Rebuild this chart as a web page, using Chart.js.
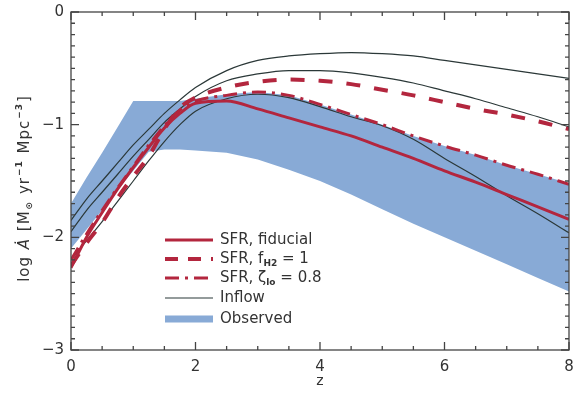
<!DOCTYPE html>
<html>
<head>
<meta charset="utf-8">
<script src="https://cdn.jsdelivr.net/npm/chart.js@4"></script>
<style>
  html, body { margin: 0; padding: 0; background: #fff; }
  #wrap { width: 573px; height: 394px; }
</style>
</head>
<body>
<div id="wrap"><canvas id="chart" width="573" height="394"></canvas></div>
<script>
// redshift grid shared by all curves
const zGrid = [0, 0.25, 0.5, 0.75, 1, 1.25, 1.5, 1.75, 2, 2.5, 3, 3.5, 4, 4.5, 5, 5.5, 6, 6.5, 7, 7.5, 8];

// observed band (upper / lower edge)
const obsUpper = [-1.70, -1.47, -1.25, -1.02, -0.79, -0.79, -0.79, -0.79, -0.77, -0.73, -0.71, -0.74, -0.82, -0.91, -1.00, -1.10, -1.19, -1.27, -1.36, -1.44, -1.52];
const obsLower = [-2.10, -1.93, -1.76, -1.58, -1.41, -1.24, -1.22, -1.22, -1.23, -1.25, -1.31, -1.40, -1.50, -1.62, -1.75, -1.88, -2.00, -2.12, -2.24, -2.36, -2.48];

// model SFR curves
const sfrFiducial = [-2.27, -2.00, -1.78, -1.57, -1.38, -1.20, -1.03, -0.90, -0.81, -0.79, -0.86, -0.94, -1.02, -1.10, -1.20, -1.30, -1.41, -1.51, -1.62, -1.73, -1.84];
const sfrFH2 = [-2.25, -2.05, -1.87, -1.65, -1.46, -1.28, -1.04, -0.85, -0.76, -0.67, -0.62, -0.60, -0.61, -0.64, -0.69, -0.74, -0.80, -0.86, -0.91, -0.97, -1.04];
const sfrZeta = [-2.20, -1.97, -1.76, -1.56, -1.37, -1.18, -1.01, -0.87, -0.79, -0.74, -0.71, -0.74, -0.82, -0.91, -1.00, -1.10, -1.19, -1.27, -1.36, -1.44, -1.53];

// inflow curves
const inflowA = [-1.85, -1.66, -1.50, -1.34, -1.18, -1.04, -0.90, -0.78, -0.67, -0.52, -0.43, -0.39, -0.37, -0.36, -0.37, -0.39, -0.43, -0.47, -0.51, -0.55, -0.59];
const inflowB = [-1.95, -1.76, -1.60, -1.44, -1.28, -1.13, -0.98, -0.86, -0.75, -0.61, -0.55, -0.52, -0.52, -0.54, -0.58, -0.63, -0.70, -0.77, -0.85, -0.93, -1.02];
const inflowC = [-2.20, -2.03, -1.86, -1.68, -1.50, -1.32, -1.15, -1.00, -0.88, -0.77, -0.73, -0.76, -0.84, -0.93, -1.01, -1.13, -1.30, -1.46, -1.63, -1.79, -1.96];

const xTicks = [0, 2, 4, 6, 8];
const yTicks = [0, -1, -2, -3];

const RED = '#b3263e';
const BLUE = '#88aad6';
const DARK = '#2b3838';
const FONT = 'DejaVu Sans';

const pts = arr => zGrid.map((z, i) => ({ x: z, y: arr[i] }));

function line(data, color, width, dash, order) {
    return {
        data: pts(data),
        borderColor: color,
        borderWidth: width,
        borderDash: dash,
        pointRadius: 0,
        cubicInterpolationMode: 'monotone',
        fill: false,
        order: order
    };
}

// box with inward ticks on all four sides
const frameTicks = {
    id: 'frameTicks',
    afterDraw(chart) {
        const { ctx, chartArea: a, scales: { x, y } } = chart;
        ctx.save();
        ctx.strokeStyle = '#444';
        ctx.lineWidth = 1.3;
        ctx.strokeRect(a.left, a.top, a.right - a.left, a.bottom - a.top);
        ctx.beginPath();
        for (let i = 0; i <= 16; i++) {
            const px = x.getPixelForValue(i * 0.5);
            const len = i % 4 === 0 ? 8 : 4;
            ctx.moveTo(px, a.bottom); ctx.lineTo(px, a.bottom - len);
            ctx.moveTo(px, a.top); ctx.lineTo(px, a.top + len);
        }
        for (let i = 0; i <= 30; i++) {
            const py = y.getPixelForValue(-i / 10);
            const len = i % 10 === 0 ? 8 : 4;
            ctx.moveTo(a.left, py); ctx.lineTo(a.left + len, py);
            ctx.moveTo(a.right, py); ctx.lineTo(a.right - len, py);
        }
        ctx.stroke();
        ctx.restore();
    }
};

// draws a run of text pieces with sub/superscripts
function drawParts(ctx, parts, x0, y0, size, spacing) {
    let tx = x0;
    parts.forEach(([txt, kind]) => {
        let dy = 0;
        if (kind === 'sub' || kind === 'sup') {
            ctx.font = 'bold ' + Math.round(size * 0.62) + 'px "' + FONT + '"';
            dy = kind === 'sub' ? size * 0.33 : -size * 0.38;
        } else if (kind === 'it') {
            ctx.font = 'italic ' + size + 'px "' + FONT + '"';
        } else {
            ctx.font = size + 'px "' + FONT + '"';
        }
        ctx.fillText(txt, tx, y0 + dy);
        tx += ctx.measureText(txt).width + spacing;
    });
    return tx - x0;
}

// y axis title, rotated, with subscripts
const yTitleParts = [['log '], ['Ȧ', 'it'], [' [M'], ['\u2299', 'sub'], [' yr'], ['\u22121', 'sup'], [' Mpc'], ['\u22123', 'sup'], [']']];

const yTitle = {
    id: 'yTitle',
    afterDraw(chart) {
        const ctx = chart.ctx;
        ctx.save();
        ctx.fillStyle = '#333';
        ctx.textBaseline = 'middle';
        ctx.letterSpacing = '1px';
        ctx.translate(25, 188);
        ctx.rotate(-Math.PI / 2);
        // measure first, then draw centred
        ctx.globalAlpha = 0;
        const w = drawParts(ctx, yTitleParts, 0, 0, 15, 1);
        ctx.globalAlpha = 1;
        drawParts(ctx, yTitleParts, -w / 2, 0, 15, 1);
        ctx.restore();
    }
};

// legend inside the plot, with subscripts
const legendEntries = [
    { parts: [['SFR, fiducial']], color: RED, width: 3, dash: [] },
    { parts: [['SFR, f'], ['H2', 'sub'], [' = 1']], color: RED, width: 4, dash: [13, 10] },
    { parts: [['SFR, ζ'], ['lo', 'sub'], [' = 0.8']], color: RED, width: 3, dash: [14, 6, 3, 6] },
    { parts: [['Inflow']], color: DARK, width: 1.2, dash: [] },
    { parts: [['Observed']], color: BLUE, width: 7, dash: [] }
];
const legendY = [240, 259, 278, 298, 319];

const innerLegend = {
    id: 'innerLegend',
    afterDatasetsDraw(chart) {
        const ctx = chart.ctx;
        ctx.save();
        legendEntries.forEach((e, i) => {
            const yy = legendY[i];
            ctx.beginPath();
            ctx.strokeStyle = e.color;
            ctx.lineWidth = e.width;
            ctx.setLineDash(e.dash);
            ctx.moveTo(165, yy);
            ctx.lineTo(213, yy);
            ctx.stroke();
            ctx.setLineDash([]);
            ctx.fillStyle = '#333';
            ctx.textBaseline = 'middle';
            drawParts(ctx, e.parts, 220, yy, 15, 0);
        });
        ctx.restore();
    }
};

new Chart(document.getElementById('chart'), {
    type: 'line',
    data: {
        datasets: [
            { data: pts(obsUpper), borderWidth: 0, pointRadius: 0, backgroundColor: BLUE, fill: 1, tension: 0, order: 20 },
            { data: pts(obsLower), borderWidth: 0, pointRadius: 0, fill: false, tension: 0, order: 21 },
            line(inflowA, DARK, 1.2, [], 10),
            line(inflowB, DARK, 1.2, [], 10),
            line(inflowC, DARK, 1.2, [], 10),
            line(sfrFH2, RED, 4, [14, 14], 3),
            line(sfrZeta, RED, 3, [14, 6, 3, 6], 2),
            line(sfrFiducial, RED, 3, [], 1)
        ]
    },
    options: {
        responsive: false,
        animation: false,
        devicePixelRatio: 1,
        layout: { padding: { top: 12, right: 4, left: 0, bottom: 0 } },
        plugins: { legend: { display: false }, tooltip: { enabled: false } },
        scales: {
            x: {
                type: 'linear',
                min: 0,
                max: 8,
                afterFit: s => { s.height = 44; s.paddingLeft = 0; s.paddingRight = 0; },
                afterBuildTicks: s => { s.ticks = xTicks.map(v => ({ value: v })); },
                grid: { display: false, drawTicks: false },
                border: { display: false },
                ticks: { color: '#333', padding: 8, font: { family: FONT, size: 15 } },
                title: { display: true, text: 'z', color: '#333', font: { family: FONT, size: 14 }, padding: { top: 0, bottom: 4 } }
            },
            y: {
                min: -3,
                max: 0,
                afterFit: s => { s.width = 71; s.paddingTop = 0; s.paddingBottom = 0; },
                afterBuildTicks: s => { s.ticks = yTicks.map(v => ({ value: v })); },
                grid: { display: false, drawTicks: false },
                border: { display: false },
                ticks: {
                    color: '#333',
                    padding: 7,
                    font: { family: FONT, size: 15 },
                    callback: v => v === 0 ? '0' : '\u2212' + Math.abs(v)
                },
                title: { display: false }
            }
        }
    },
    plugins: [frameTicks, yTitle, innerLegend]
});
</script>
</body>
</html>
